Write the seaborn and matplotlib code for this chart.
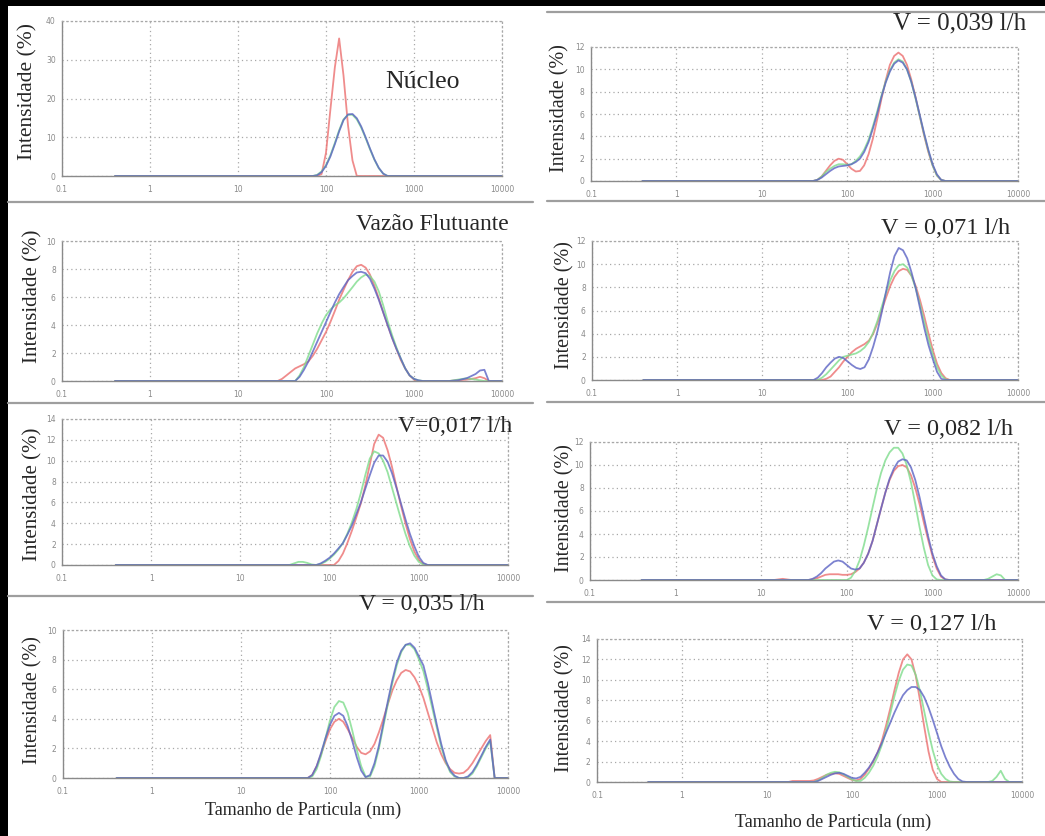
import pandas as pd
import seaborn as sns
import matplotlib.pyplot as plt
from matplotlib.lines import Line2D
from matplotlib.patches import Rectangle
from matplotlib.ticker import LogLocator, MultipleLocator, NullFormatter

W, H = 1045, 836

# ---- values: particle size (nm) and intensity (%) ----
# Nucleo
nuc_size = [0.4, 70.8, 79.4, 89.1, 100, 112, 126, 141, 158, 178, 200, 224, 251, 282, 316, 355, 398, 447, 501, 10000]
nuc_red = [0, 0, 0, 0.5, 6, 17, 28, 35.5, 26, 13, 4, 0, 0, 0, 0, 0, 0, 0, 0, 0]
nuc_green = [0, 0, 0.3, 1.2, 2.8, 5.3, 8.5, 11.8, 14.6, 15.8, 15.8, 14.6, 12.5, 9.8, 6.9, 4.2, 2.0, 0.6, 0, 0]
nuc_blue = [0, 0, 0.2, 1.0, 2.6, 5.0, 8.2, 11.5, 14.4, 15.9, 16.0, 14.9, 12.8, 10.0, 7.1, 4.3, 2.1, 0.6, 0, 0]

# Vazao flutuante
flu_size = [0.4, 28.2, 31.6, 35.5, 39.8, 44.7, 50.1, 56.2, 63.1, 70.8, 79.4, 89.1, 100, 112, 126, 141, 158,
            178, 200, 224, 251, 282, 316, 355, 398, 447, 501, 562, 631, 708, 794, 891, 1000, 1122, 1259,
            1413, 2512, 3162, 3981, 5012, 5623, 6310, 7079, 10000]
flu_red = [0, 0, 0.15, 0.4, 0.65, 0.9, 1.05, 1.2, 1.4, 1.8, 2.3, 2.9, 3.5, 4.2, 5.0, 5.8, 6.5,
           7.2, 7.8, 8.2, 8.3, 8.1, 7.6, 6.8, 5.9, 4.9, 4.0, 3.1, 2.3, 1.5, 0.9, 0.4, 0.1, 0, 0,
           0, 0, 0.05, 0.1, 0.2, 0.3, 0.2, 0, 0]
flu_green = [0, 0, 0, 0, 0, 0, 0.4, 1.0, 1.8, 2.6, 3.4, 4.1, 4.7, 5.1, 5.4, 5.6, 5.9,
             6.3, 6.7, 7.1, 7.4, 7.6, 7.5, 7.1, 6.4, 5.4, 4.3, 3.3, 2.4, 1.6, 0.9, 0.4, 0.15, 0.05, 0,
             0, 0, 0.1, 0.2, 0.1, 0.05, 0, 0, 0]
flu_blue = [0, 0, 0, 0, 0, 0, 0.3, 0.8, 1.4, 2.1, 2.8, 3.5, 4.2, 4.9, 5.6, 6.2, 6.7,
            7.2, 7.5, 7.75, 7.8, 7.7, 7.3, 6.6, 5.8, 4.9, 4.0, 3.1, 2.3, 1.6, 0.9, 0.4, 0.15, 0.05, 0,
            0, 0, 0.05, 0.2, 0.5, 0.75, 0.8, 0, 0]

# V = 0,017 l/h
v017_size = [0.4, 31.6, 35.5, 39.8, 44.7, 50.1, 56.2, 63.1, 70.8, 79.4, 89.1, 100, 112, 126, 141, 158, 178,
             200, 224, 251, 282, 316, 355, 398, 447, 501, 562, 631, 708, 794, 891, 1000, 1122, 1259, 1413, 10000]
v017_red = [0, 0, 0, 0, 0, 0, 0, 0, 0, 0, 0, 0, 0, 0.4, 1.1, 2.1, 3.3,
            4.6, 5.9, 7.6, 9.6, 11.6, 12.5, 12.2, 11.0, 9.4, 7.5, 5.7, 4.0, 2.5, 1.3, 0.5, 0.1, 0, 0, 0]
v017_green = [0, 0, 0, 0.15, 0.3, 0.3, 0.2, 0.05, 0, 0.1, 0.3, 0.6, 1.0, 1.5, 2.1, 3.0, 4.1,
              5.4, 6.9, 8.6, 10.2, 10.9, 10.7, 10.0, 8.9, 7.4, 5.9, 4.4, 3.0, 1.8, 0.9, 0.3, 0.05, 0, 0, 0]
v017_blue = [0, 0, 0, 0, 0, 0, 0, 0, 0, 0.15, 0.4, 0.7, 1.1, 1.6, 2.1, 2.9, 3.8,
             4.9, 6.0, 7.3, 8.6, 9.8, 10.5, 10.5, 9.9, 8.8, 7.4, 5.9, 4.4, 3.0, 1.8, 0.8, 0.2, 0, 0, 0]

# V = 0,035 l/h
v035_size = [0.4, 50.1, 56.2, 63.1, 70.8, 79.4, 89.1, 100, 112, 126, 141, 158, 178, 200, 224, 251, 282,
             316, 355, 398, 447, 501, 562, 631, 708, 794, 891, 1000, 1122, 1259, 1413, 1585, 1778, 1995,
             2239, 2512, 2818, 3162, 3548, 3981, 4467, 5012, 5623, 6310, 7079, 10000]
v035_red = [0, 0, 0, 0.2, 0.8, 1.6, 2.5, 3.3, 3.8, 4.0, 3.8, 3.3, 2.7, 2.1, 1.7, 1.6, 1.8,
            2.3, 3.1, 4.0, 5.0, 5.9, 6.6, 7.1, 7.3, 7.2, 6.8, 6.2, 5.4, 4.4, 3.4, 2.4, 1.6, 1.0,
            0.6, 0.35, 0.3, 0.35, 0.6, 1.0, 1.5, 2.0, 2.5, 2.9, 0, 0]
v035_green = [0, 0, 0, 0.1, 0.6, 1.5, 2.7, 3.9, 4.8, 5.2, 5.1, 4.4, 3.2, 1.9, 0.8, 0.1, 0.1,
              0.8, 2.0, 3.5, 5.0, 6.4, 7.6, 8.5, 9.0, 9.0, 8.7, 8.0, 7.2, 6.0, 4.7, 3.4, 2.1, 1.1,
              0.4, 0.1, 0, 0, 0.05, 0.3, 0.8, 1.4, 2.0, 2.5, 0, 0]
v035_blue = [0, 0, 0, 0.2, 0.8, 1.7, 2.7, 3.6, 4.2, 4.4, 4.2, 3.5, 2.5, 1.4, 0.5, 0.05, 0.2,
             1.0, 2.2, 3.7, 5.2, 6.6, 7.8, 8.6, 9.0, 9.1, 8.8, 8.2, 7.6, 6.4, 5.0, 3.6, 2.3, 1.2,
             0.5, 0.15, 0, 0, 0.1, 0.4, 0.9, 1.5, 2.1, 2.6, 0, 0]

# V = 0,039 l/h
v039_size = [0.4, 39.8, 44.7, 50.1, 56.2, 63.1, 70.8, 79.4, 89.1, 100, 112, 126, 141, 158, 178, 200, 224,
             251, 282, 316, 355, 398, 447, 501, 562, 631, 708, 794, 891, 1000, 1122, 1259, 1413, 10000]
v039_red = [0, 0, 0.1, 0.4, 0.9, 1.4, 1.8, 2.0, 1.9, 1.5, 1.1, 0.85, 0.9, 1.4, 2.4, 3.8, 5.5,
            7.3, 9.0, 10.4, 11.2, 11.5, 11.2, 10.4, 9.1, 7.5, 5.8, 4.1, 2.6, 1.4, 0.5, 0.1, 0, 0]
v039_green = [0, 0, 0.1, 0.4, 0.8, 1.1, 1.35, 1.5, 1.5, 1.45, 1.5, 1.8, 2.2, 2.8, 3.7, 4.9, 6.2,
              7.6, 8.9, 9.9, 10.6, 10.9, 10.7, 10.0, 8.9, 7.4, 5.8, 4.2, 2.7, 1.4, 0.5, 0.1, 0, 0]
v039_blue = [0, 0, 0.1, 0.3, 0.6, 0.9, 1.15, 1.3, 1.35, 1.4, 1.5, 1.7, 2.0, 2.6, 3.5, 4.7, 6.0,
             7.5, 8.8, 9.8, 10.5, 10.8, 10.6, 10.0, 8.9, 7.5, 5.9, 4.3, 2.8, 1.5, 0.6, 0.1, 0, 0]

# V = 0,071 l/h
v071_size = [0.4, 39.8, 44.7, 50.1, 56.2, 63.1, 70.8, 79.4, 89.1, 100, 112, 126, 141, 158, 178, 200, 224,
             251, 282, 316, 355, 398, 447, 501, 562, 631, 708, 794, 891, 1000, 1122, 1259, 1413, 1585, 10000]
v071_red = [0, 0, 0, 0, 0.1, 0.3, 0.7, 1.1, 1.6, 2.0, 2.4, 2.7, 2.9, 3.1, 3.4, 4.0, 4.9,
            6.0, 7.1, 8.1, 8.9, 9.4, 9.6, 9.5, 9.0, 8.1, 6.9, 5.5, 4.0, 2.6, 1.4, 0.6, 0.15, 0, 0]
v071_green = [0, 0, 0, 0.2, 0.5, 0.9, 1.3, 1.7, 2.0, 2.1, 2.2, 2.3, 2.5, 2.8, 3.3, 4.1, 5.1,
              6.3, 7.5, 8.6, 9.4, 9.9, 10.0, 9.7, 9.0, 7.9, 6.5, 5.0, 3.5, 2.2, 1.1, 0.4, 0.05, 0, 0]
v071_blue = [0, 0, 0.2, 0.6, 1.1, 1.5, 1.85, 2.0, 1.9, 1.6, 1.3, 1.05, 0.95, 1.1, 1.8, 2.9, 4.2,
             5.8, 7.6, 9.3, 10.7, 11.4, 11.2, 10.5, 9.3, 7.9, 6.2, 4.5, 3.0, 1.8, 0.7, 0.1, 0, 0, 0]

# V = 0,082 l/h
v082_size = [0.4, 14.1, 17.8, 22.4, 31.6, 35.5, 39.8, 44.7, 50.1, 56.2, 63.1, 70.8, 79.4, 89.1, 100, 112,
             126, 141, 158, 178, 200, 224, 251, 282, 316, 355, 398, 447, 501, 562, 631, 708, 794, 891,
             1000, 1122, 1259, 1413, 1585, 3981, 4467, 5012, 5623, 6310, 7079, 10000]
v082_red = [0, 0, 0.1, 0, 0, 0, 0.05, 0.15, 0.3, 0.45, 0.5, 0.5, 0.5, 0.45, 0.45, 0.5,
            0.7, 1.0, 1.5, 2.3, 3.4, 4.8, 6.2, 7.6, 8.7, 9.5, 9.9, 10.0, 9.8, 9.1, 8.0, 6.6, 5.0, 3.5,
            2.1, 1.0, 0.3, 0.05, 0, 0, 0, 0, 0, 0, 0, 0]
v082_green = [0, 0, 0, 0, 0, 0, 0, 0, 0, 0, 0, 0, 0, 0, 0, 0.2,
              0.8, 1.7, 3.0, 4.6, 6.3, 7.9, 9.3, 10.4, 11.1, 11.5, 11.5, 11.0, 10.0, 8.5, 6.6, 4.6, 2.8, 1.3,
              0.4, 0.05, 0, 0, 0, 0, 0.1, 0.3, 0.5, 0.4, 0, 0]
v082_blue = [0, 0, 0, 0, 0, 0, 0.1, 0.3, 0.6, 1.0, 1.3, 1.6, 1.7, 1.6, 1.3, 1.0,
             0.9, 1.0, 1.5, 2.3, 3.4, 4.8, 6.2, 7.6, 8.8, 9.7, 10.3, 10.5, 10.4, 9.8, 8.7, 7.2, 5.5, 3.8,
             2.3, 1.2, 0.4, 0.05, 0, 0, 0, 0, 0, 0, 0, 0]

# V = 0,127 l/h
v127_size = [0.4, 17.8, 20.0, 22.4, 25.1, 28.2, 31.6, 35.5, 39.8, 44.7, 50.1, 56.2, 63.1, 70.8, 79.4, 89.1,
             100, 112, 126, 141, 158, 178, 200, 224, 251, 282, 316, 355, 398, 447, 501, 562, 631, 708,
             794, 891, 1000, 1122, 1259, 1413, 1585, 1778, 1995, 2239, 3981, 4467, 5012, 5623, 6310, 7079, 10000]
v127_red = [0, 0, 0.1, 0.1, 0.1, 0.1, 0.1, 0.15, 0.3, 0.5, 0.7, 0.8, 0.85, 0.8, 0.6, 0.4,
            0.2, 0.15, 0.3, 0.7, 1.3, 2.0, 2.9, 4.0, 5.5, 7.2, 9.0, 10.7, 12.0, 12.5, 12.0, 10.4, 8.0, 5.4,
            3.0, 1.2, 0.3, 0, 0, 0, 0, 0, 0, 0, 0, 0, 0, 0, 0, 0, 0]
v127_green = [0, 0, 0, 0, 0, 0, 0, 0, 0.15, 0.4, 0.7, 0.9, 1.0, 0.95, 0.75, 0.5,
              0.25, 0.1, 0.1, 0.4, 0.9, 1.6, 2.5, 3.6, 5.0, 6.7, 8.4, 9.9, 11.0, 11.5, 11.4, 10.5, 8.9, 6.9,
              4.9, 3.1, 1.7, 0.8, 0.3, 0.05, 0, 0, 0, 0, 0, 0.1, 0.5, 1.1, 0.3, 0, 0]
v127_blue = [0, 0, 0, 0, 0, 0, 0, 0, 0.1, 0.3, 0.5, 0.7, 0.85, 0.9, 0.8, 0.6,
             0.4, 0.35, 0.5, 0.9, 1.4, 2.1, 2.9, 3.8, 4.8, 5.8, 6.8, 7.7, 8.5, 9.0, 9.3, 9.3, 9.0, 8.3,
             7.3, 6.1, 4.8, 3.5, 2.4, 1.5, 0.8, 0.3, 0.05, 0, 0, 0, 0, 0, 0, 0, 0]

run_colors = {"red": "#ec6f6f", "green": "#7fdc8c", "blue": "#5b63c4"}
x_ticks = [0.1, 1, 10, 100, 1000, 10000]
x_tick_labels = ["0.1", "1", "10", "100", "1000", "10000"]

sns.set_style("white")
serif = ["Liberation Serif", "DejaVu Serif"]

fig = plt.figure(figsize=(W / 100, H / 100), dpi=100)


def fig_xy(x, y):
    return x / W, 1 - y / H


def draw_panel(box, size, red, green, blue, ymax, ystep, title, title_xy, title_fs,
               ylab_xy, ylab_fs=14.5, xlabel_xy=None):
    left, top, right, bottom = box
    ax = fig.add_axes([left / W, 1 - bottom / H, (right - left) / W, (bottom - top) / H])
    df = pd.concat([
        pd.DataFrame({"size": size, "intensity": red, "run": "red"}),
        pd.DataFrame({"size": size, "intensity": green, "run": "green"}),
        pd.DataFrame({"size": size, "intensity": blue, "run": "blue"}),
    ])
    sns.lineplot(data=df, x="size", y="intensity", hue="run", palette=run_colors,
                 estimator=None, sort=False, legend=False, lw=1.3, alpha=0.8, ax=ax)
    ax.set_xscale("log")
    ax.set_xlim(0.1, 10000)
    ax.set_ylim(0, ymax)
    ax.set_xticks(x_ticks)
    ax.set_xticklabels(x_tick_labels)
    ax.xaxis.set_minor_locator(LogLocator(base=10, subs=range(2, 10)))
    ax.xaxis.set_minor_formatter(NullFormatter())
    ax.yaxis.set_major_locator(MultipleLocator(ystep))
    ax.yaxis.set_minor_locator(MultipleLocator(ystep / 2))
    ax.set_xlabel("")
    ax.set_ylabel("")
    ax.grid(True, which="major", ls=(0, (1, 2.5)), color="#a8a8a8", lw=0.9)
    for s in ["top", "right"]:
        ax.spines[s].set_linestyle((0, (1, 2.5)))
        ax.spines[s].set_color("#a8a8a8")
        ax.spines[s].set_linewidth(0.9)
    for s in ["left", "bottom"]:
        ax.spines[s].set_color("#8a8a8a")
        ax.spines[s].set_linewidth(1.0)
    ax.tick_params(which="major", direction="inout", length=5, width=0.8, color="#8a8a8a",
                   labelsize=5.5, labelcolor="#8a8a8a", pad=2)
    ax.tick_params(which="minor", direction="inout", length=3, width=0.7, color="#8a8a8a")
    ax.tick_params(axis="x", pad=4)
    fig.text(*fig_xy(*title_xy), title, family=serif, fontsize=title_fs, ha="center", va="center")
    fig.text(*fig_xy(*ylab_xy), "Intensidade (%)", family=serif, fontsize=ylab_fs,
             rotation=90, ha="center", va="center")
    if xlabel_xy is not None:
        fig.text(*fig_xy(*xlabel_xy), "Tamanho de Particula (nm)", family=serif, fontsize=13,
                 ha="center", va="center")
    return ax


draw_panel((62, 21, 502, 176), nuc_size, nuc_red, nuc_green, nuc_blue, 40, 10,
           "Núcleo", (423, 82), 18.5, (28, 92), 15.5)
draw_panel((62, 241, 502, 381), flu_size, flu_red, flu_green, flu_blue, 10, 2,
           "Vazão Flutuante", (432, 225), 17, (33, 296), 15)
draw_panel((62, 419, 508, 565), v017_size, v017_red, v017_green, v017_blue, 14, 2,
           "V=0,017 l/h", (455, 427), 17, (33, 494), 15)
draw_panel((63, 630, 508, 778), v035_size, v035_red, v035_green, v035_blue, 10, 2,
           "V = 0,035 l/h", (422, 605), 17, (33, 700), 14.5, xlabel_xy=(303, 810))
draw_panel((591, 47, 1018, 181), v039_size, v039_red, v039_green, v039_blue, 12, 2,
           "V = 0,039 l/h", (960, 23), 18, (560, 108), 14.5)
draw_panel((592, 241, 1018, 380), v071_size, v071_red, v071_green, v071_blue, 12, 2,
           "V = 0,071 l/h", (946, 228), 17.5, (565, 305), 14.5)
draw_panel((590, 442, 1018, 580), v082_size, v082_red, v082_green, v082_blue, 12, 2,
           "V = 0,082 l/h", (948, 430), 17.5, (565, 508), 14.5)
draw_panel((597, 639, 1022, 782), v127_size, v127_red, v127_green, v127_blue, 14, 2,
           "V = 0,127 l/h", (932, 625), 17.5, (565, 708), 14.5, xlabel_xy=(833, 822))

# separator lines between the panels
for y in [202, 403, 596]:
    fig.add_artist(Line2D([8 / W, 533 / W], [1 - y / H, 1 - y / H], color="#9e9e9e", lw=1.6))
for y in [12, 201, 402, 602]:
    fig.add_artist(Line2D([547 / W, 1 - 0.5 / W], [1 - y / H, 1 - y / H], color="#9e9e9e", lw=1.6))

# black frame on the top and left
fig.add_artist(Rectangle((0, 1 - 6 / H), 1, 6 / H, transform=fig.transFigure, color="black", lw=0))
fig.add_artist(Rectangle((0, 0), 8 / W, 1, transform=fig.transFigure, color="black", lw=0))

fig.savefig("out.png", dpi=100)
